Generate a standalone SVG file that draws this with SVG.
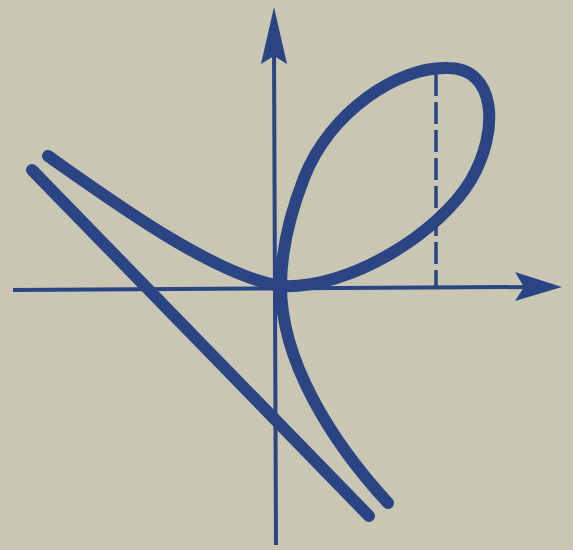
<svg xmlns="http://www.w3.org/2000/svg" width="573" height="550" viewBox="0 0 573 550">
<style>
.axis{stroke:#2b4584;stroke-width:4;fill:none}
.curve{stroke:#2b4584;stroke-width:12;fill:none;stroke-linecap:round;stroke-linejoin:round}
.head{fill:#2b4584}
.dash{stroke:#2b4584;stroke-width:3.5;fill:none;stroke-dasharray:22 6}
</style>
<rect width="573" height="550" fill="#c9c6b3"/>
<g id="axes">
<line class="axis" x1="13" y1="290" x2="530" y2="287"/>
<polygon class="head" points="562,287 515,272 524,287 515,301"/>
<line class="axis" x1="276" y1="545" x2="274" y2="50"/>
<polygon class="head" points="274,7 261,64 274,56 287,64"/>
</g>
<g id="dashed">
<line class="dash" x1="436" y1="74" x2="436" y2="287"/>
</g>
<g id="asymptote">
<path class="curve" d="M32 170 L369 516"/>
</g>
<g id="folium">
<path class="curve" d="M48 156 C115 203 212 274 280 286 C350 290 440 232 471 180 C500 130 496 68 448 68 C398 66 330 112 304 178 C290 214 281 250 281 286 C281 360 330 440 388 503"/>
</g>
</svg>
